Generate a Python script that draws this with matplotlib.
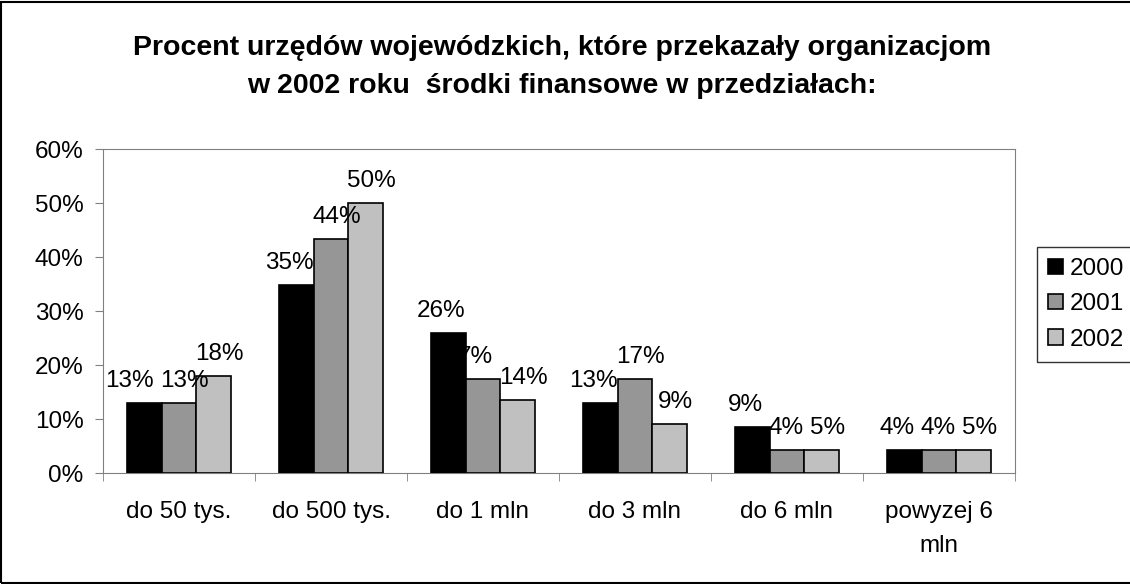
import matplotlib
matplotlib.use("Agg")
import matplotlib.pyplot as plt
import numpy as np
from matplotlib.patches import Rectangle

categories = ["do 50 tys.", "do 500 tys.", "do 1 mln", "do 3 mln", "do 6 mln", "powyzej 6\nmln"]
years = ["2000", "2001", "2002"]
values_2000 = [13.0, 34.8, 25.9, 13.0, 8.5, 4.3]
values_2001 = [13.0, 43.3, 17.4, 17.4, 4.3, 4.3]
values_2002 = [18.0, 50.0, 13.5, 9.1, 4.3, 4.3]
labels_2000 = ["13%", "35%", "26%", "13%", "9%", "4%"]
labels_2001 = ["13%", "44%", "7%", "17%", "4%", "4%"]
labels_2002 = ["18%", "50%", "14%", "9%", "5%", "5%"]
colors = ["#000000", "#969696", "#C0C0C0"]

plt.rcParams['font.family'] = ['Liberation Sans', 'DejaVu Sans']
FS = 17.5

fig = plt.figure(figsize=(11.3, 5.84), dpi=100)
ax = fig.add_axes([103/1130, 1-473/584, 912/1130, 324/584])

series = [values_2000, values_2001, values_2002]
labels = [labels_2000, labels_2001, labels_2002]
x_off = [-5, 4, 4]
x = np.arange(len(categories))
w = 0.23
texts = [[None] * 3 for _ in categories]
for i, (vals, labs) in enumerate(zip(series, labels)):
    pos = x + (i - 1) * w
    ax.bar(pos, vals, width=w, color=colors[i], edgecolor="black", linewidth=1.2,
           label=years[i], zorder=3)
    for j, (p, v, l) in enumerate(zip(pos, vals, labs)):
        texts[j][i] = ax.annotate(l, (p, v), xytext=(x_off[i], 8), textcoords="offset points",
                                  ha="center", va="bottom", fontsize=FS, zorder=6)

ax.set_xlim(-0.5, len(categories) - 0.5)
ax.set_ylim(0, 60)
ax.set_yticks(np.arange(0, 61, 10))
ax.set_yticklabels([f"{t}%" for t in range(0, 61, 10)], fontsize=FS)
ax.set_xticks(x)
ax.set_xticklabels(categories, fontsize=FS, linespacing=1.7)
ax.set_xticks(np.arange(-0.5, len(categories), 1), minor=True)
ax.tick_params(axis="x", which="major", length=0, pad=20)
ax.tick_params(axis="x", which="minor", length=6, direction="out", color="#808080")
ax.tick_params(axis="y", length=6, direction="out", color="#808080", pad=8)
for s in ["top", "right", "left", "bottom"]:
    ax.spines[s].set_color("#808080")

# push apart data labels that would collide (as the original layout does)
fig.canvas.draw()
r = fig.canvas.get_renderer()
for grp in texts:
    for k in range(2):
        a, b = grp[k], grp[k + 1]
        ba, bb = a.get_window_extent(r), b.get_window_extent(r)
        if ba.y1 > bb.y0 and bb.y1 > ba.y0:
            gap = bb.x0 - ba.x1
            need = 6 - gap
            if need > 0:
                sh = need * 72 / fig.dpi
                ox, oy = a.xyann
                a.xyann = (ox - sh, oy)
                fig.canvas.draw()

fig.text(0.497, 1-48/584, "Procent urzędów wojewódzkich, które przekazały organizacjom",
         ha="center", va="center", fontsize=20.5, fontweight="bold")
fig.text(0.497, 1-86/584, "w 2002 roku  środki finansowe w przedziałach:",
         ha="center", va="center", fontsize=20.5, fontweight="bold")

leg = fig.legend(loc="upper left", bbox_to_anchor=(1037/1130, 1-247/584), fontsize=FS,
                 frameon=True, fancybox=False, edgecolor="black", handlelength=0.6,
                 handleheight=0.6, handletextpad=0.3, labelspacing=0.55,
                 borderpad=0.45, borderaxespad=0)
leg.get_frame().set_linewidth(1.0)

fig.patches.append(Rectangle((1/1130, 1/584), 1.1, 1-3/584, transform=fig.transFigure,
                             fill=False, edgecolor="black", linewidth=1.5))

fig.savefig("out.png", dpi=100)
